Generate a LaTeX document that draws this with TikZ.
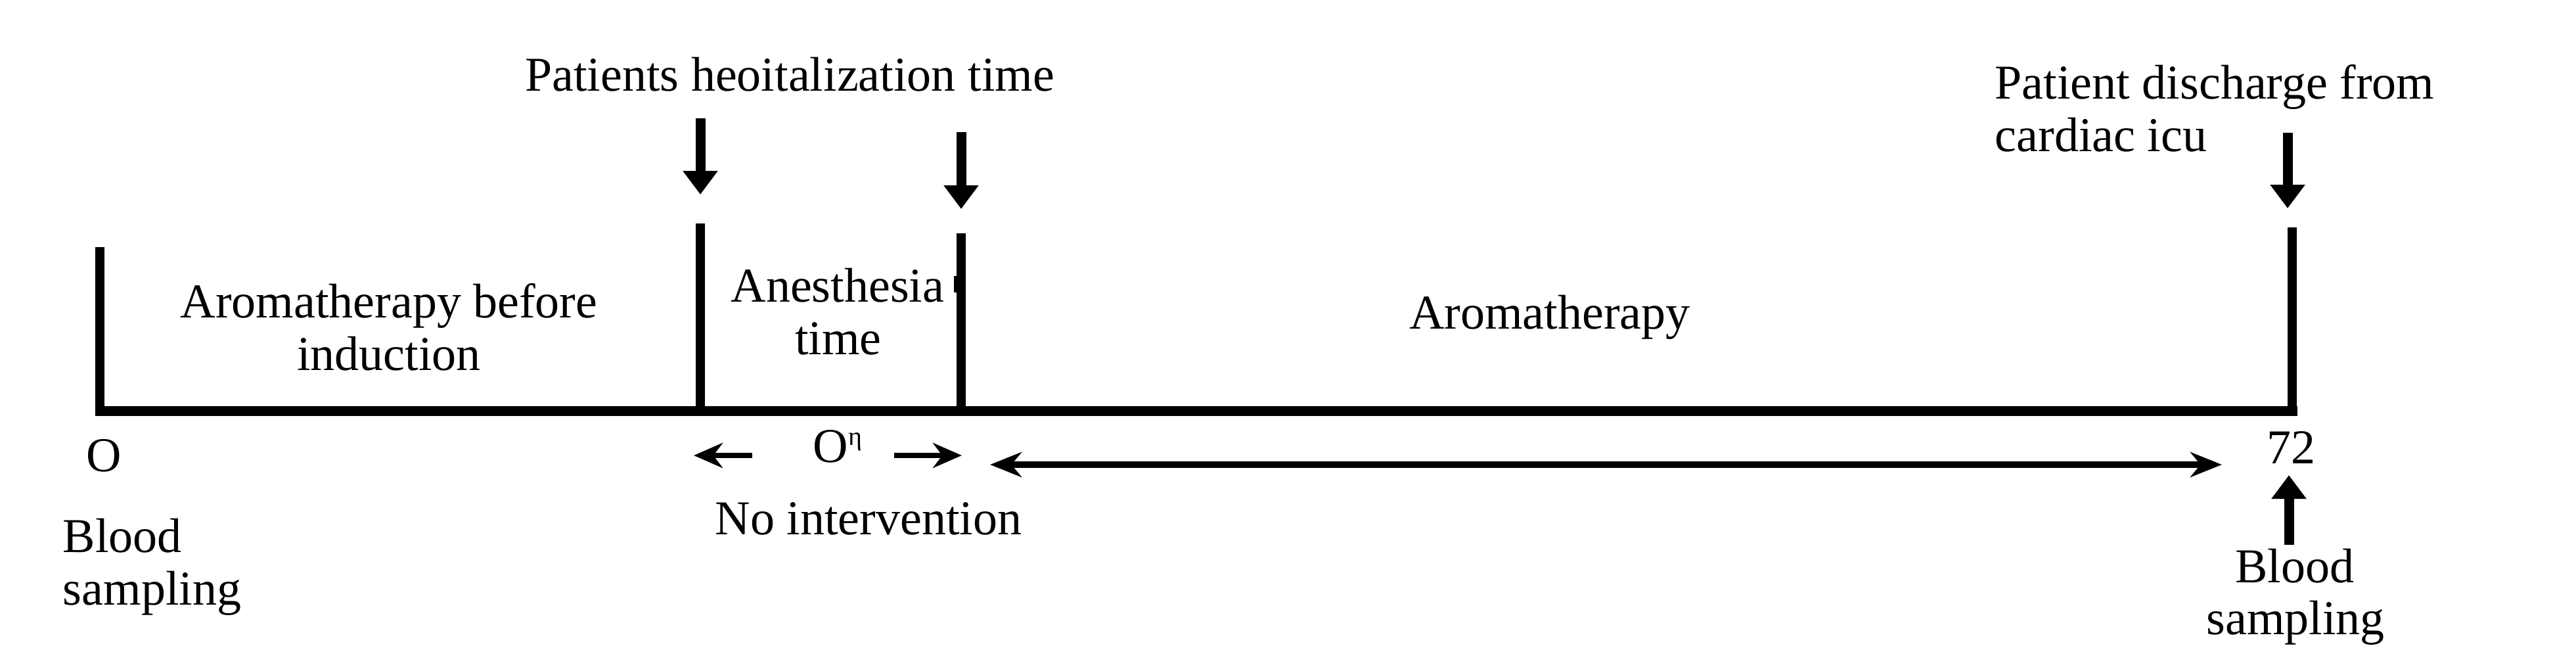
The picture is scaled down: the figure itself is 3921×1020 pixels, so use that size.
\documentclass[tikz,border=0pt]{standalone}
\usepackage{fontspec}
\setmainfont{Liberation Serif}
\usetikzlibrary{arrows.meta}
\begin{document}
\begin{tikzpicture}[x=0.25pt,y=-0.25pt,
  lbl/.style={inner sep=0pt, font=\fontsize{18.5}{22}\selectfont, anchor=base},
  lblw/.style={lbl, anchor=base west},
  axisline/.style={line width=3.75pt},
  tickline/.style={line width=3.5pt},
  downarr/.style={line width=3.75pt, -{Triangle[length=9pt,width=12.75pt]}},
  smallarr/.style={line width=2pt, -{Stealth[length=11pt,width=9.5pt]}},
  longarr/.style={line width=2.5pt, {Stealth[length=12pt,width=9.5pt]}-{Stealth[length=12pt,width=9.5pt]}},
]
\path[use as bounding box, fill=white] (0,0) rectangle (3921,1020);

% axis and ticks
\coordinate (axL) at (145,625);
\coordinate (axR) at (3497,625);
\coordinate (t0top) at (152,376);  \coordinate (t0bot) at (152,625);
\coordinate (t1top) at (1066,340); \coordinate (t1bot) at (1066,625);
\coordinate (t2top) at (1463,355); \coordinate (t2bot) at (1463,625);
\coordinate (t3top) at (3489,346); \coordinate (t3bot) at (3489,625);

\draw[axisline] (axL) -- (axR);
\draw[tickline] (t0top) -- (t0bot);
\draw[tickline] (t1top) -- (t1bot);
\draw[tickline] (t2top) -- (t2bot);
\draw[tickline] (t3top) -- (t3bot);
\fill (1452,420) rectangle (1458,445);

% downward arrows
\coordinate (d1s) at (1066,180); \coordinate (d1e) at (1066,296);
\coordinate (d2s) at (1463,201); \coordinate (d2e) at (1463,318);
\coordinate (d3s) at (3482,202); \coordinate (d3e) at (3482,317);
\draw[downarr] (d1s) -- (d1e);
\draw[downarr] (d2s) -- (d2e);
\draw[downarr] (d3s) -- (d3e);

% upward arrow to 72
\coordinate (us) at (3484,829); \coordinate (ue) at (3484,723);
\draw[downarr] (us) -- (ue);

% small arrows around O
\coordinate (la) at (1145,693); \coordinate (lb) at (1056,693);
\coordinate (ra) at (1361,693); \coordinate (rb) at (1464,693);
\draw[smallarr] (la) -- (lb);
\draw[smallarr] (ra) -- (rb);

% long double arrow
\coordinate (ga) at (1507,707); \coordinate (gb) at (3382,707);
\draw[longarr] (ga) -- (gb);

% labels
\node[lbl] (hosp) at (1202,138) {Patients heoitalization time};
\node[lblw] (dis1) at (3036,150) {Patient discharge from};
\node[lblw] (dis2) at (3036,230) {cardiac icu};
\node[lbl] (pre1) at (592,483) {Aromatherapy before};
\node[lbl] (pre2) at (592,563) {induction};
\node[lbl] (an1) at (1275,459) {Anesthesia};
\node[lbl] (an2) at (1276,539) {time};
\node[lbl] (aro) at (2359,500) {Aromatherapy};
\node[lbl] (zero) at (158,717) {O};
\node[lblw] (oeta) at (1237,703) {O\raisebox{0.75ex}{\fontsize{10}{12}\selectfont η}};
\node[lbl] (noint) at (1322,813) {No intervention};
\node[lblw] (bl1) at (95,840) {Blood};
\node[lblw] (bl2) at (95,920) {sampling};
\node[lbl] (sev) at (3487,705) {72};
\node[lbl] (br1) at (3493,886) {Blood};
\node[lbl] (br2) at (3494,965) {sampling};
\end{tikzpicture}
\end{document}
